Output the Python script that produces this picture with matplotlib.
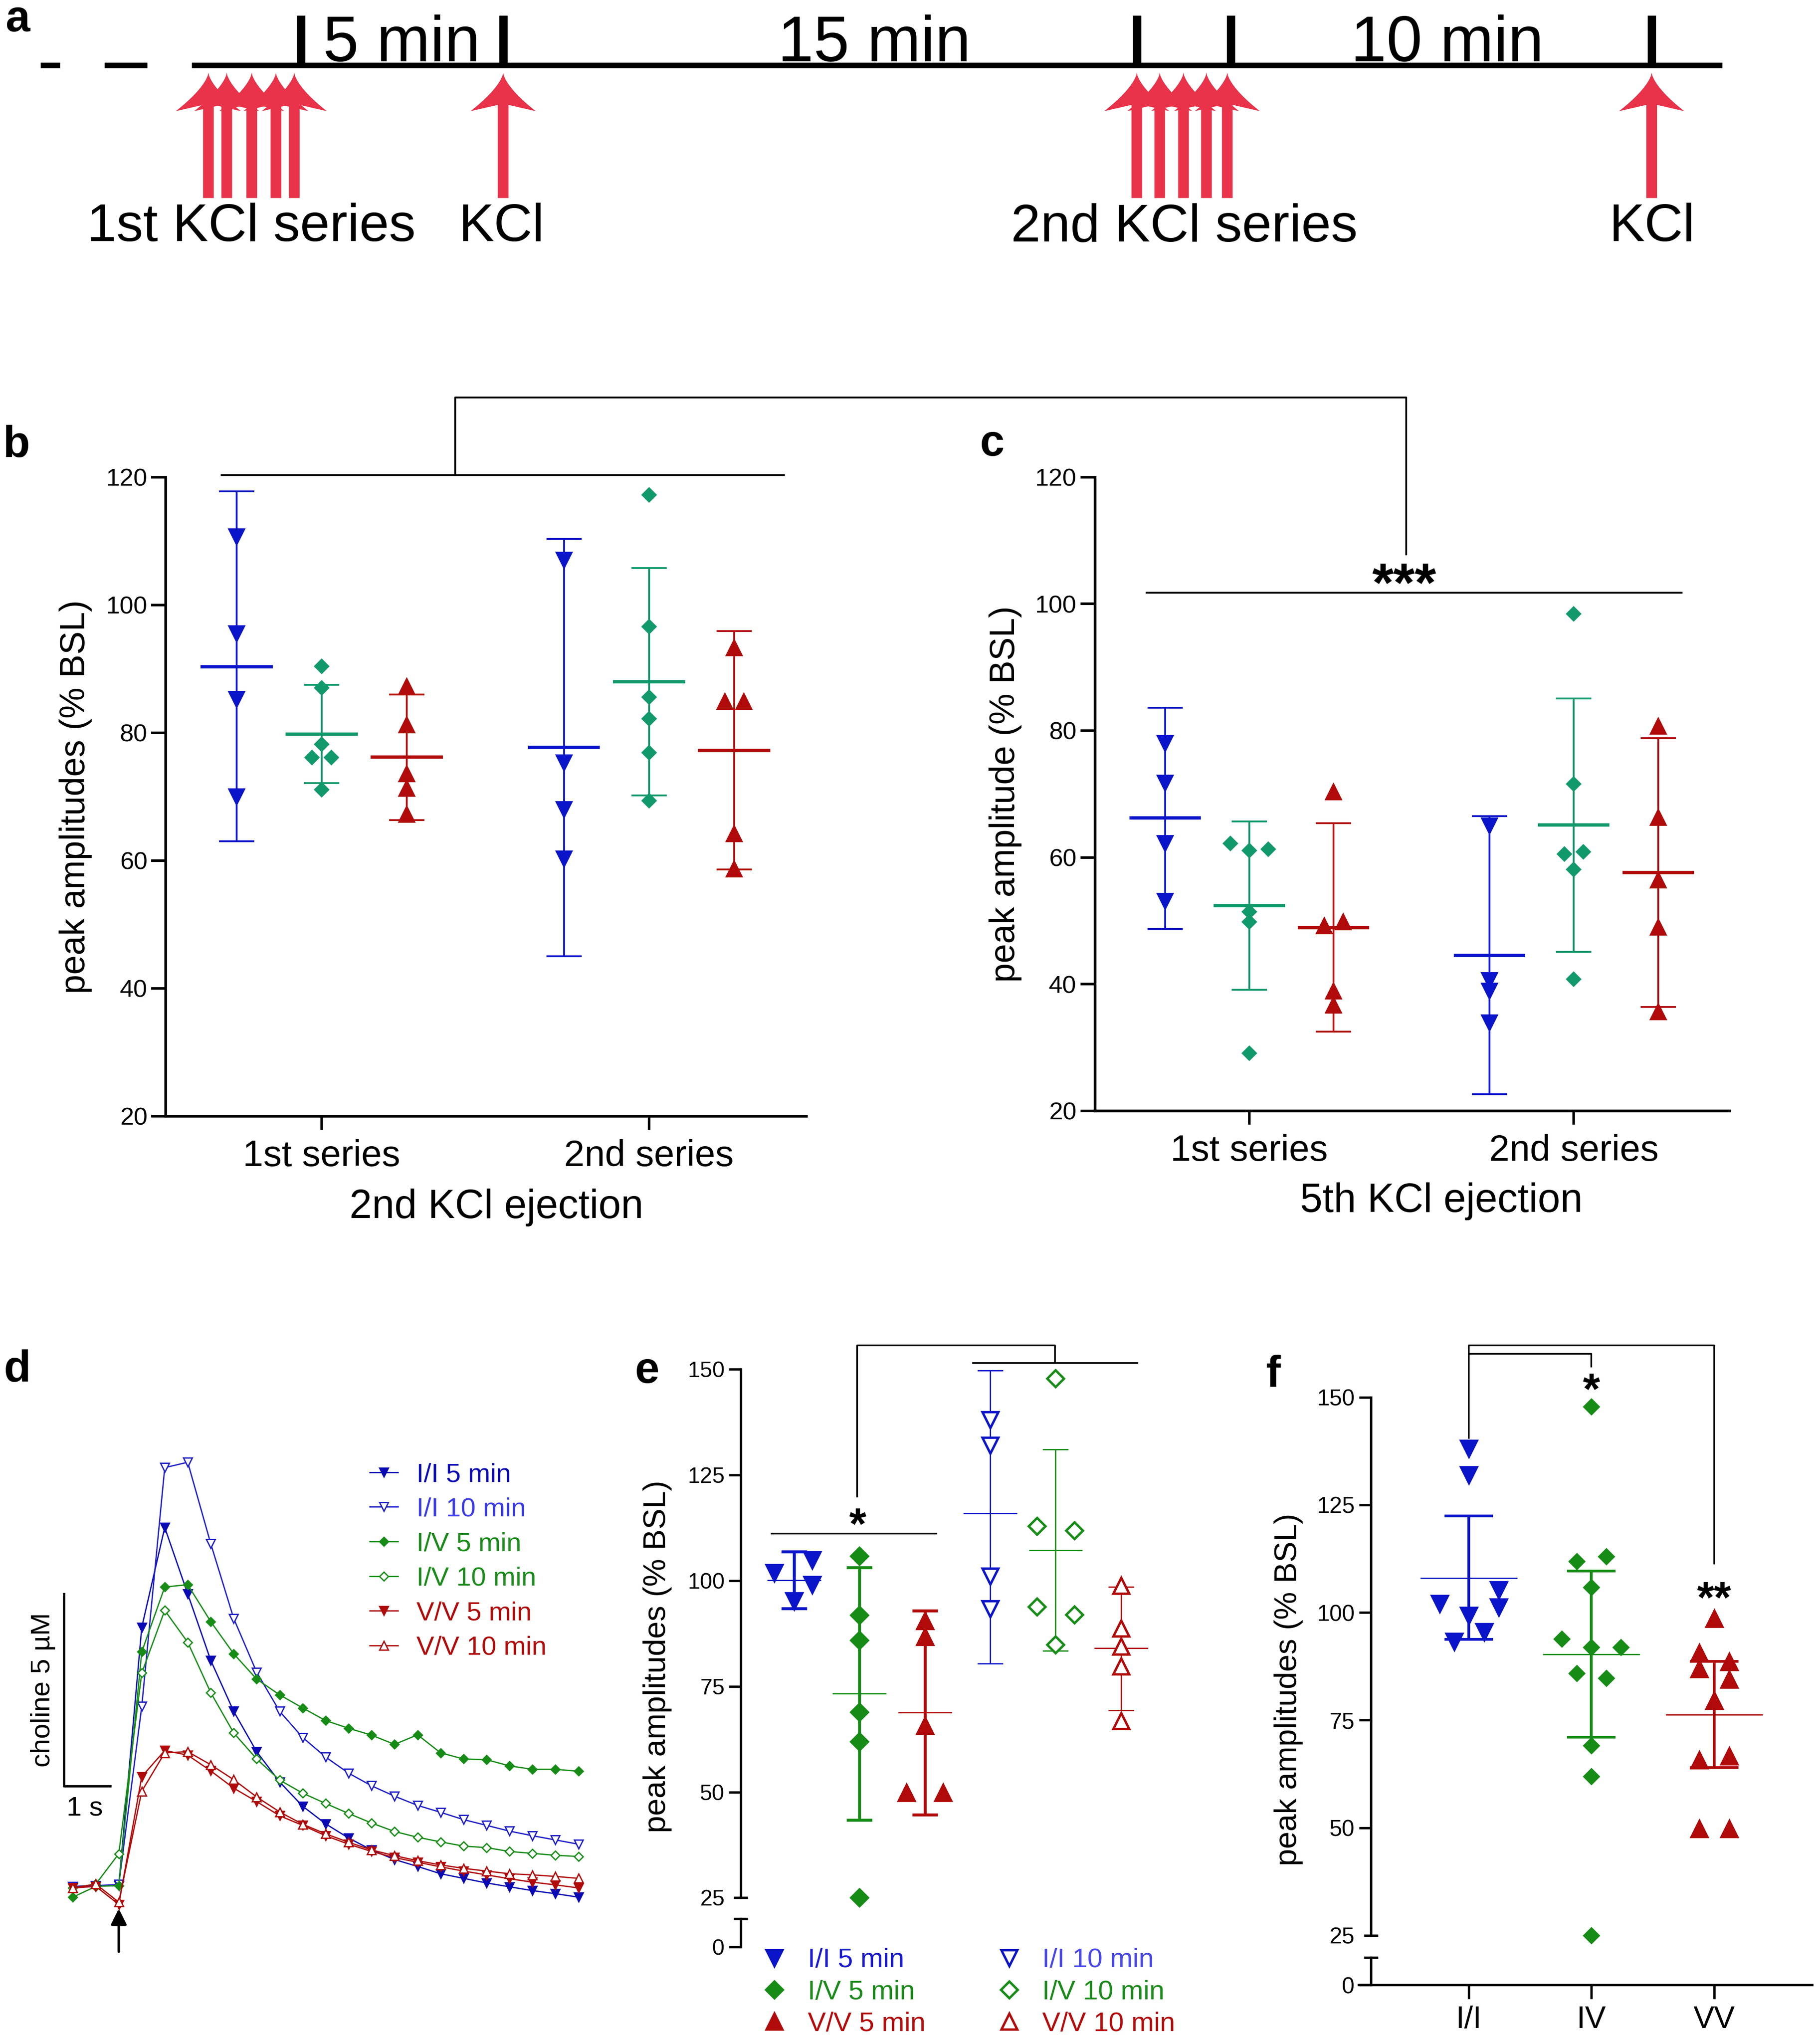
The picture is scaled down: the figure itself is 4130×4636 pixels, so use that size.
import numpy as np
import matplotlib
matplotlib.use("Agg")
import matplotlib.pyplot as plt
from matplotlib.patches import Polygon
from matplotlib.lines import Line2D

plt.rcParams['font.family'] = ['Liberation Sans', 'DejaVu Sans']

# layout grid: positions below are in px of the reference shrunk to 1397 x 1568
W, H = 1397.0, 1568.0


def rect(x0, y0, x1, y1):
    return [x0 / W, 1 - y1 / H, (x1 - x0) / W, (y1 - y0) / H]


BLUE = '#0A14C8'
TEAL = '#12996B'
RED = '#B00A0A'
GREEN = '#168C16'
KCL_RED = '#E8334A'

# ---- data ---------------------------------------------------------------

# a: protocol timeline (minutes)
a_ticks = [0.0, 4.85, 20.05, 22.3, 32.4]
a_series1 = [-2.22, -1.78, -1.18, -0.6, -0.16]
a_series2 = [20.05, 20.6, 21.17, 21.72, 22.22]
a_single = [4.85, 32.4]
a_gap_labels = ['5 min', '15 min', '10 min']
a_gap_pos = [2.41, 13.75, 27.5]
a_event_labels = ['1st KCl series', 'KCl', '2nd KCl series', 'KCl']
a_event_pos = [-1.19, 4.81, 21.19, 32.4]

# b / c: peak amplitudes (% BSL), per condition [1st series, 2nd series]
series_names = ['1st series', '2nd series']

b_ii_pts = [[110.7, 95.5, 85.2, 70.0], [107.0, 75.3, 68.0, 60.3]]
b_ii_jit = [[0, 0, 0, 0], [0, 0, 0, 0]]
b_ii_mean = [90.3, 77.7]
b_ii_lo = [63.0, 45.0]
b_ii_hi = [117.8, 110.3]

b_iv_pts = [[90.4, 87.0, 78.2, 76.1, 76.1, 71.1], [117.2, 96.6, 85.6, 82.2, 76.9, 69.4]]
b_iv_jit = [[0, 0, 0, -0.029, 0.029, 0], [0, 0, 0, 0, 0, 0]]
b_iv_mean = [79.8, 88.0]
b_iv_lo = [72.1, 70.2]
b_iv_hi = [87.5, 105.8]

b_vv_pts = [[87.2, 81.2, 73.6, 71.3, 67.2], [93.3, 84.9, 84.9, 64.2, 58.7]]
b_vv_jit = [[0, 0, 0, 0, 0], [0, -0.029, 0.029, 0, 0]]
b_vv_mean = [76.2, 77.2]
b_vv_lo = [66.3, 58.6]
b_vv_hi = [86.0, 95.9]

c_ii_pts = [[78.0, 71.7, 62.2, 53.1], [65.0, 40.6, 38.9, 33.9]]
c_ii_jit = [[0, 0, 0, 0], [0, 0, 0, 0]]
c_ii_mean = [66.2, 44.5]
c_ii_lo = [48.7, 22.6]
c_ii_hi = [83.6, 66.5]

c_iv_pts = [[62.2, 61.1, 61.3, 51.4, 49.8, 29.1], [98.4, 71.6, 60.5, 60.9, 58.1, 40.8]]
c_iv_jit = [[-0.058, 0, 0.058, 0, 0, 0], [0, 0, -0.029, 0.029, 0, 0]]
c_iv_mean = [52.4, 65.1]
c_iv_lo = [39.1, 45.1]
c_iv_hi = [65.7, 85.1]

c_vv_pts = [[70.3, 49.2, 49.8, 38.9, 36.7], [80.7, 66.3, 56.4, 49.0, 35.6]]
c_vv_jit = [[0, -0.029, 0.029, 0, 0], [0, 0, 0, 0, 0]]
c_vv_mean = [48.9, 57.6]
c_vv_lo = [32.5, 36.4]
c_vv_hi = [65.4, 78.8]

# d: choline traces (uM above baseline), 0.5 s sampling
d_time = [0.0, 0.5, 1.0, 1.5, 2.0, 2.5, 3.0, 3.5, 4.0, 4.5, 5.0, 5.5,
          6.0, 6.5, 7.0, 7.5, 8.0, 8.5, 9.0, 9.5, 10.0, 10.5, 11.0]
d_labels = ['I/I 5 min', 'I/I 10 min', 'I/V 5 min', 'I/V 10 min', 'V/V 5 min', 'V/V 10 min']
d_ii5 = [0.0, 0.02, 0.02, 6.75, 9.35, 7.62, 5.89, 4.56, 3.51, 2.72, 2.09, 1.63,
         1.26, 0.95, 0.70, 0.52, 0.33, 0.21, 0.09, -0.01, -0.11, -0.19, -0.28]
d_ii10 = [0.0, 0.02, 0.05, 4.69, 10.91, 11.05, 8.93, 6.98, 5.58, 4.56, 3.88, 3.37,
          2.95, 2.62, 2.35, 2.11, 1.93, 1.74, 1.59, 1.44, 1.32, 1.21, 1.10]
d_iv5 = [-0.28, 0.0, 0.02, 6.11, 7.80, 7.86, 6.90, 6.06, 5.40, 4.99, 4.65, 4.32,
         4.12, 3.94, 3.70, 3.95, 3.48, 3.32, 3.30, 3.14, 3.05, 3.05, 3.00]
d_iv10 = [-0.04, 0.06, 0.85, 5.56, 7.19, 6.36, 5.05, 4.00, 3.32, 2.77, 2.43, 2.16,
          1.90, 1.65, 1.43, 1.28, 1.16, 1.05, 1.01, 0.91, 0.86, 0.81, 0.78]
d_vv5 = [-0.04, 0.0, -0.47, 2.86, 3.54, 3.42, 3.01, 2.56, 2.21, 1.84, 1.59, 1.32,
         1.10, 0.91, 0.75, 0.63, 0.51, 0.40, 0.30, 0.20, 0.11, 0.04, -0.04]
d_vv10 = [-0.04, 0.06, -0.41, 2.48, 3.48, 3.51, 3.17, 2.78, 2.33, 1.94, 1.62, 1.37,
          1.15, 0.95, 0.80, 0.67, 0.56, 0.47, 0.40, 0.33, 0.30, 0.26, 0.21]
d_stim_time = 1.0
d_bar_uM = 5.0
d_bar_s = 1.0

# e: peak amplitudes (% BSL) by pairing and interval
e_labels = ['I/I 5 min', 'I/V 5 min', 'V/V 5 min', 'I/I 10 min', 'I/V 10 min', 'V/V 10 min']
e_pts = [[101.9, 104.9, 99.1, 95.2],
         [105.8, 91.9, 85.9, 68.9, 61.9, 25.0],
         [90.5, 86.8, 65.7, 49.8, 49.8],
         [138.0, 132.0, 101.0, 93.3],
         [147.8, 112.9, 111.9, 93.8, 92.0, 84.9],
         [98.8, 88.7, 84.5, 79.8, 66.8]]
e_jit = [[-0.30, 0.28, 0.28, 0],
         [0, 0, 0, 0, 0, 0],
         [0, 0, 0, -0.28, 0.28],
         [0, 0, 0, 0],
         [0, -0.286, 0.286, -0.286, 0.286, 0],
         [0, 0, 0, 0, 0]]
e_mean = [100.1, 73.3, 68.8, 115.9, 107.2, 84.0]
e_lo = [93.4, 43.4, 44.6, 80.4, 83.4, 69.3]
e_hi = [106.9, 103.1, 92.9, 149.7, 131.1, 98.5]

# f: pooled peak amplitudes (% BSL)
f_names = ['I/I', 'IV', 'VV']
f_pts = [[138.1, 132.0, 102.1, 105.2, 101.2, 99.3, 95.5, 93.3],
         [147.8, 111.9, 113.0, 105.9, 93.9, 91.9, 91.9, 85.9, 84.8, 69.1, 61.9, 25.0],
         [98.6, 90.6, 88.5, 86.9, 84.5, 79.5, 65.7, 66.6, 49.8, 49.8]]
f_jit = [[0, 0, -0.237, 0.244, 0.244, 0, 0.128, -0.116],
         [0, -0.119, 0.122, 0, -0.240, 0, 0.240, -0.119, 0.122, 0, 0, 0],
         [0, -0.122, 0.122, -0.122, 0.122, 0, -0.122, 0.122, -0.122, 0.122]]
f_mean = [108.0, 90.3, 76.3]
f_lo = [93.8, 71.0, 64.0]
f_hi = [122.4, 109.6, 88.7]

# ---- figure -------------------------------------------------------------

fig = plt.figure(figsize=(4130 / 300, 4636 / 300), dpi=300)

# --- a ---
PX_MIN = 32.0       # layout px per minute
ax_a = fig.add_axes(rect(0, 0, W, 200))
ax_a.set_xlim(-231 / PX_MIN, (W - 231) / PX_MIN)
ax_a.set_ylim(200, 0)
ax_a.axis('off')

ax_a.hlines(50, -84 / PX_MIN, 1091 / PX_MIN, color='k', lw=3.0)
ax_a.hlines([50, 50], [-200 / PX_MIN, -151 / PX_MIN], [-185 / PX_MIN, -118 / PX_MIN], color='k', lw=3.0)
ax_a.vlines(a_ticks, 12, 50, color='k', lw=4.5)
for lab, t in zip(a_gap_labels, a_gap_pos):
    ax_a.text(t, 47, lab, ha='center', va='baseline', fontsize=35)


def kcl_arrow(ax, t):
    f = np.linspace(0, 1, 14)
    hw, sw = 25.0 / PX_MIN, 4.1 / PX_MIN
    y_tip, y_barb, y_notch, y_end = 55.8, 85.3, 80.5, 152.0
    right = np.column_stack([t + hw * f ** 1.5, y_tip + (y_barb - y_tip) * f])
    left = right[::-1].copy()
    left[:, 0] = 2 * t - left[:, 0]
    pts = np.vstack([right, [[t + sw, y_notch], [t + sw, y_end], [t - sw, y_end], [t - sw, y_notch]], left])
    ax.add_patch(Polygon(pts, closed=True, fc=KCL_RED, ec='none'))


for t in a_series1 + a_single + a_series2:
    kcl_arrow(ax_a, t)
for lab, t in zip(a_event_labels, a_event_pos):
    ax_a.text(t, 185, lab, ha='center', va='baseline', fontsize=29)


# --- b, c ---
def dot_panel(ax, pts, jit, means, lo, hi, color, marker, ms, off):
    for g in range(len(means)):
        x0 = g + off
        ax.errorbar([x0], [means[g]], yerr=[[means[g] - lo[g]], [hi[g] - means[g]]], fmt='none',
                    ecolor=color, elinewidth=1.0, capsize=9.5, capthick=1.0, zorder=2)
        ax.hlines(means[g], x0 - 0.11, x0 + 0.11, color=color, lw=1.8, zorder=2)
        ax.plot([x0 + j for j in jit[g]], pts[g], ls='none', marker=marker, ms=ms,
                color=color, mec=color, zorder=3)


def style_bc(ax, ylabel, xlabel, xl_x):
    ax.set_xlim(-0.476, 1.481)
    ax.set_ylim(20, 120)
    for s in ('top', 'right'):
        ax.spines[s].set_visible(False)
    for s in ('left', 'bottom'):
        ax.spines[s].set_linewidth(1.5)
    ax.set_yticks([20, 40, 60, 80, 100, 120])
    ax.set_xticks([0, 1], series_names)
    ax.tick_params(axis='y', length=8, width=1.4, labelsize=13.5, pad=2)
    ax.tick_params(axis='x', length=7.5, width=1.4, labelsize=20, pad=5)
    ax.set_ylabel(ylabel, fontsize=19)
    ax.yaxis.set_label_coords(-0.115, 0.5)
    ax.set_xlabel(xlabel, fontsize=22)
    ax.xaxis.set_label_coords(xl_x, -0.113)


ax_b = fig.add_axes(rect(127.3, 366.2, 619.1, 856.7))
dot_panel(ax_b, b_ii_pts, b_ii_jit, b_ii_mean, b_ii_lo, b_ii_hi, BLUE, 'v', 8, -0.26)
dot_panel(ax_b, b_iv_pts, b_iv_jit, b_iv_mean, b_iv_lo, b_iv_hi, TEAL, 'D', 5.2, 0.0)
dot_panel(ax_b, b_vv_pts, b_vv_jit, b_vv_mean, b_vv_lo, b_vv_hi, RED, '^', 8, 0.26)
style_bc(ax_b, 'peak amplitudes (% BSL)', '2nd KCl ejection', 0.516)
ax_b.plot([-0.305, 1.412], [120.35, 120.35], color='k', lw=1.0, clip_on=False)

ax_c = fig.add_axes(rect(840.4, 366.2, 1327.8, 852.6))
dot_panel(ax_c, c_ii_pts, c_ii_jit, c_ii_mean, c_ii_lo, c_ii_hi, BLUE, 'v', 8, -0.26)
dot_panel(ax_c, c_iv_pts, c_iv_jit, c_iv_mean, c_iv_lo, c_iv_hi, TEAL, 'D', 5.2, 0.0)
dot_panel(ax_c, c_vv_pts, c_vv_jit, c_vv_mean, c_vv_lo, c_vv_hi, RED, '^', 8, 0.26)
style_bc(ax_c, 'peak amplitude (% BSL)', '5th KCl ejection', 0.546)
ax_c.plot([-0.317, 1.332], [101.75, 101.75], color='k', lw=1.0, clip_on=False)
ax_c.text(0.478, 100.4, '***', ha='center', va='baseline', fontsize=30, fontweight='bold')

# --- d ---
ax_d = fig.add_axes(rect(30, 1080, 470, 1510))
ax_d.set_xlim(-0.734, 11.737)
ax_d.set_ylim(-2.111, 12.485)
ax_d.axis('off')
d_series = [d_ii5, d_ii10, d_iv5, d_iv10, d_vv5, d_vv10]
d_line_cols = ['#0A0AB4', '#1E1EC8', GREEN, GREEN, RED, RED]
d_text_cols = ['#0A0AB4', '#3B3BE6', '#1A8A1A', '#1A8A1A', '#B00A0A', '#B00A0A']
d_markers = ['v', 'v', 'D', 'D', 'v', '^']
d_filled = [True, False, True, False, True, False]
for ys, lab, col, mk, fl in zip(d_series, d_labels, d_line_cols, d_markers, d_filled):
    ax_d.plot(d_time, ys, color=col, lw=0.7, marker=mk, ms=5 if mk != 'D' else 3.4,
              mfc=col if fl else 'white', mec=col, mew=0.7, label=lab)
ax_d.legend(loc='upper left', bbox_to_anchor=(0.577, 0.901), frameon=False, fontsize=14.5,
            handlelength=1.05, handletextpad=0.7, labelspacing=0.39, borderpad=0,
            borderaxespad=0, labelcolor=d_text_cols)
bar_x, bar_y = -0.19, 2.617
ax_d.plot([bar_x, bar_x, bar_x + d_bar_s], [bar_y + d_bar_uM, bar_y, bar_y], color='k', lw=1.3)
ax_d.text(bar_x - 0.46, bar_y + d_bar_uM / 2, 'choline 5 \u00b5M', rotation=90,
          ha='center', va='center', fontsize=14.8)
ax_d.text(bar_x + 0.445, bar_y - 0.59, '1 s', ha='center', va='center', fontsize=14.8)
ax_d.annotate('', xy=(d_stim_time, -0.58), xytext=(d_stim_time, -1.70),
              arrowprops=dict(arrowstyle='-|>', lw=1.4, color='k', mutation_scale=18,
                              shrinkA=0, shrinkB=0))


# --- e, f helpers ---
def group_panel(ax, pts, jit, means, lo, hi, colors, markers, fills, sizes, elws, mlw, cap, hw):
    for i in range(len(means)):
        ax.errorbar([i], [means[i]], yerr=[[means[i] - lo[i]], [hi[i] - means[i]]], fmt='none',
                    ecolor=colors[i], elinewidth=elws[i], capsize=cap, capthick=elws[i], zorder=2)
        ax.hlines(means[i], i - hw, i + hw, color=colors[i], lw=mlw, zorder=2)
        ax.plot([i + j for j in jit[i]], pts[i], ls='none', marker=markers[i], ms=sizes[i],
                mfc=colors[i] if fills[i] else 'white', mec=colors[i], mew=1.3, zorder=3)


def broken_axes(ax_up, ax_lo, top, lo_top, tsize, lpad, lw, tlen):
    for s in ('top', 'right', 'bottom'):
        ax_up.spines[s].set_visible(False)
    ax_up.spines['left'].set_bounds(25, top)
    ax_up.spines['left'].set_linewidth(lw)
    ax_up.set_yticks([50, 75, 100, 125, 150])
    ax_up.set_yticks([25], ['25'], minor=True)
    ax_up.tick_params(axis='y', which='major', length=tlen, width=lw, labelsize=tsize, pad=lpad)
    ax_up.tick_params(axis='y', which='minor', direction='inout', length=7.7, width=lw,
                      labelsize=tsize, pad=lpad + tlen - 3.85)
    ax_up.set_xticks([])
    ax_lo.patch.set_visible(False)
    for s in ('top', 'right'):
        ax_lo.spines[s].set_visible(False)
    ax_lo.spines['left'].set_bounds(0, lo_top)
    ax_lo.spines['left'].set_linewidth(lw)
    ax_lo.set_yticks([0])
    ax_lo.set_yticks([lo_top], [''], minor=True)
    ax_lo.tick_params(axis='y', which='major', length=tlen, width=lw, labelsize=tsize, pad=lpad)
    ax_lo.tick_params(axis='y', which='minor', direction='inout', length=7.7, width=lw)


# --- e ---
ax_e = fig.add_axes(rect(568.7, 1025, 890, 1465))
ax_e.set_xlim(-0.813, 5.588)
ax_e.set_ylim(22.38, 158.0)
ax_e_lo = fig.add_axes(rect(568.7, 1466, 890, 1500))
ax_e_lo.set_xlim(-0.813, 5.588)
ax_e_lo.set_ylim(-1.73, 8.75)
e_cols = [BLUE, GREEN, RED, BLUE, GREEN, RED]
e_marks = ['v', 'D', '^', 'v', 'D', '^']
e_fill = [True, True, True, False, False, False]
e_sizes = [8.6, 6.3, 8.6, 8.6, 6.3, 8.6]
group_panel(ax_e, e_pts, e_jit, e_mean, e_lo, e_hi, e_cols, e_marks, e_fill, e_sizes,
            [1.6, 1.6, 1.6, 0.7, 0.7, 0.7], 0.7, 6.9, 0.41)
broken_axes(ax_e, ax_e_lo, 150, 6.75, 12.1, 2.5, 1.3, 6.4)
ax_e_lo.spines['bottom'].set_visible(False)
ax_e_lo.set_xticks([])
ax_e.set_ylabel('peak amplitudes (% BSL)', fontsize=17)
ax_e.yaxis.set_label_coords(-0.164, 0.44)
ax_e.plot([-0.343, 2.177], [111.1, 111.1], color='k', lw=0.9, clip_on=False)
ax_e.plot([0.962, 0.962, 3.988, 3.988], [119.85, 155.7, 155.7, 151.45], color='k', lw=0.9, clip_on=False)
ax_e.plot([2.737, 5.251], [151.45, 151.45], color='k', lw=0.9, clip_on=False)
ax_e.text(0.974, 109.9, '*', ha='center', va='baseline', fontsize=24, fontweight='bold')

e_text_cols = ['#1A1AD0', '#1A8A1A', '#B40A0A', '#4848E8', '#1A8A1A', '#B40A0A']
e_handles = [Line2D([], [], ls='none', marker=m, ms=s, mfc=c if fl else 'white', mec=c, mew=1.3)
             for m, s, c, fl in zip(e_marks, e_sizes, e_cols, e_fill)]
fig.legend(e_handles, e_labels, loc='upper left', bbox_to_anchor=(584 / W, 1 - 1495 / H), ncol=2,
           frameon=False, fontsize=14.8, handlelength=1.0, handletextpad=0.73, columnspacing=2.57,
           labelspacing=0.25, borderpad=0, borderaxespad=0, labelcolor=e_text_cols)

# --- f ---
ax_f = fig.add_axes(rect(1052.4, 1025, 1391, 1492))
ax_f.set_xlim(-0.795, 2.798)
ax_f.set_ylim(23.0, 164.35)
ax_f_lo = fig.add_axes(rect(1043, 1493, 1391, 1530))
ax_f_lo.set_xlim(-0.894, 2.798)
ax_f_lo.set_ylim(-2.0, 9.2)
f_cols = [BLUE, GREEN, RED]
group_panel(ax_f, f_pts, f_jit, f_mean, f_lo, f_hi, f_cols, ['v', 'D', '^'], [True, True, True],
            [8.8, 5.6, 8.8], [1.5, 1.5, 1.5], 0.7, 13.2, 0.395)
broken_axes(ax_f, ax_f_lo, 150, 6.39, 12.4, 2.5, 1.3, 6.4)
ax_f_lo.spines['left'].set_position(('data', -0.795))
ax_f_lo.spines['bottom'].set_position(('data', 0))
ax_f_lo.spines['bottom'].set_linewidth(1.3)
ax_f_lo.set_xticks([0, 1, 2], f_names)
ax_f_lo.tick_params(axis='x', length=7.7, width=1.3, labelsize=17, pad=3.5)
ax_f.set_ylabel('peak amplitudes (% BSL)', fontsize=17)
ax_f.yaxis.set_label_coords(-0.154, 0.418)
ax_f.plot([0, 0, 2, 2], [140.6, 162.1, 162.1, 111.4], color='k', lw=0.9, clip_on=False)
ax_f.plot([0, 1, 1], [160.1, 160.1, 157.1], color='k', lw=0.9, clip_on=False)
ax_f.text(1.0, 148.5, '*', ha='center', va='baseline', fontsize=24, fontweight='bold')
ax_f.text(2.0, 100.0, '**', ha='center', va='baseline', fontsize=24, fontweight='bold')

# --- overlay: cross-panel bracket and panel letters ---
ov = fig.add_axes([0, 0, 1, 1])
ov.set_xlim(0, W)
ov.set_ylim(H, 0)
ov.axis('off')
ov.plot([349.5, 349.5, 1079.5, 1079.5], [364.5, 305.2, 305.2, 425.5], color='k', lw=1.0)
for lab, x, y in [('a', 4, 24), ('b', 2, 350.6), ('c', 752, 349.8),
                  ('d', 3, 1060.4), ('e', 487, 1061.5), ('f', 971.5, 1064)]:
    ov.text(x, y, lab, fontsize=24, fontweight='bold', va='baseline', ha='left')

fig.savefig('out.png', dpi=300)
